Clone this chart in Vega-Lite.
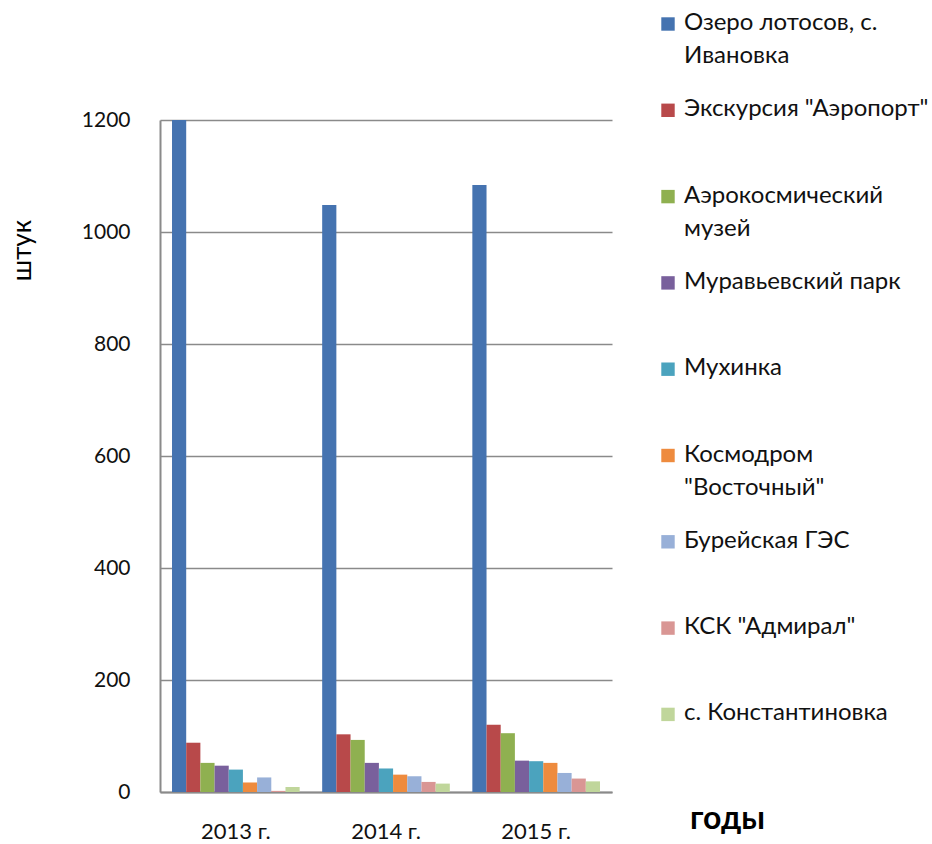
{
  "$schema": "https://vega.github.io/schema/vega-lite/v6.json",
  "width": 452,
  "height": 672,
  "autosize": {"type": "none"},
  "padding": {"left": 160, "top": 120, "right": 320, "bottom": 52},
  "background": "white",
  "config": {"view": {"stroke": null}, "font": "Lato"},
  "data": {
    "values": [
      {"year": "2013 г.", "site": "Озеро лотосов, с. Ивановка", "value": 1200},
      {"year": "2013 г.", "site": "Экскурсия \"Аэропорт\"", "value": 88},
      {"year": "2013 г.", "site": "Аэрокосмический музей", "value": 52},
      {"year": "2013 г.", "site": "Муравьевский парк", "value": 47},
      {"year": "2013 г.", "site": "Мухинка", "value": 40},
      {"year": "2013 г.", "site": "Космодром \"Восточный\"", "value": 17},
      {"year": "2013 г.", "site": "Бурейская ГЭС", "value": 26},
      {"year": "2013 г.", "site": "КСК \"Адмирал\"", "value": 2},
      {"year": "2013 г.", "site": "с. Константиновка", "value": 9},
      {"year": "2014 г.", "site": "Озеро лотосов, с. Ивановка", "value": 1048},
      {"year": "2014 г.", "site": "Экскурсия \"Аэропорт\"", "value": 103},
      {"year": "2014 г.", "site": "Аэрокосмический музей", "value": 93},
      {"year": "2014 г.", "site": "Муравьевский парк", "value": 52},
      {"year": "2014 г.", "site": "Мухинка", "value": 42},
      {"year": "2014 г.", "site": "Космодром \"Восточный\"", "value": 31},
      {"year": "2014 г.", "site": "Бурейская ГЭС", "value": 28},
      {"year": "2014 г.", "site": "КСК \"Адмирал\"", "value": 18},
      {"year": "2014 г.", "site": "с. Константиновка", "value": 15},
      {"year": "2015 г.", "site": "Озеро лотосов, с. Ивановка", "value": 1084},
      {"year": "2015 г.", "site": "Экскурсия \"Аэропорт\"", "value": 120},
      {"year": "2015 г.", "site": "Аэрокосмический музей", "value": 105},
      {"year": "2015 г.", "site": "Муравьевский парк", "value": 56},
      {"year": "2015 г.", "site": "Мухинка", "value": 55},
      {"year": "2015 г.", "site": "Космодром \"Восточный\"", "value": 52},
      {"year": "2015 г.", "site": "Бурейская ГЭС", "value": 34},
      {"year": "2015 г.", "site": "КСК \"Адмирал\"", "value": 24},
      {"year": "2015 г.", "site": "с. Константиновка", "value": 19}
    ]
  },
  "mark": {"type": "bar"},
  "encoding": {
    "x": {
      "field": "year",
      "type": "nominal",
      "scale": {"paddingInner": 0.15, "paddingOuter": 0.08},
      "axis": {
        "title": "годы",
        "titleFont": "Lato",
        "titleFontSize": 32,
        "titleFontWeight": "bold",
        "titleColor": "#000",
        "titleX": 567,
        "titleY": 26,
        "titleAnchor": "middle",
        "titleBaseline": "middle",
        "labelAngle": 0,
        "labelFontSize": 22,
        "labelColor": "#111",
        "labelPadding": 29,
        "labelDx": -3,
        "ticks": false,
        "domainColor": "#8a8a8a",
        "domainWidth": 2
      }
    },
    "xOffset": {
      "field": "site",
      "type": "nominal",
      "sort": null,
      "scale": {"paddingInner": 0, "paddingOuter": 0}
    },
    "y": {
      "field": "value",
      "type": "quantitative",
      "scale": {"domain": [0, 1200], "nice": false},
      "axis": {
        "title": "штук",
        "titleFontSize": 26,
        "titleFontWeight": "normal",
        "titleColor": "#000",
        "titleX": -138,
        "titleY": 130,
        "titleAngle": 270,
        "titleAlign": "center",
        "titleBaseline": "middle",
        "values": [0, 200, 400, 600, 800, 1000, 1200],
        "format": "d",
        "labelFontSize": 21,
        "labelColor": "#111",
        "labelPadding": 30,
        "ticks": false,
        "gridColor": "#8a8a8a",
        "gridWidth": 1.5,
        "domainColor": "#8a8a8a",
        "domainWidth": 2
      }
    },
    "color": {
      "field": "site",
      "type": "nominal",
      "sort": null,
      "scale": {
        "domain": ["Озеро лотосов, с. Ивановка", "Экскурсия \"Аэропорт\"", "Аэрокосмический музей", "Муравьевский парк", "Мухинка", "Космодром \"Восточный\"", "Бурейская ГЭС", "КСК \"Адмирал\"", "с. Константиновка"],
        "range": ["#4573B0", "#B8494A", "#8FB050", "#79609C", "#4BA3BE", "#EE8B3E", "#98B0D8", "#D99694", "#C0D69B"]
      },
      "legend": {
        "title": null,
        "orient": "none",
        "legendX": 496,
        "legendY": -108,
        "symbolType": "square",
        "symbolSize": 180,
        "symbolStrokeWidth": 0,
        "labelFontSize": 24,
        "labelColor": "#111",
        "labelLimit": 320,
        "labelOffset": 4,
        "labelBaseline": "middle",
        "rowPadding": 29.3,
        "labelExpr": "datum.label == 'Озеро лотосов, с. Ивановка' ? ['Озеро лотосов, с.', 'Ивановка'] : datum.label == 'Аэрокосмический музей' ? ['Аэрокосмический', 'музей'] : datum.label == 'Космодром \"Восточный\"' ? ['Космодром', '\"Восточный\"'] : [datum.label, '']",
        "encode": {
          "labels": {"update": {"lineHeight": {"value": 33}, "dy": {"value": -1}}}
        }
      }
    }
  }
}
